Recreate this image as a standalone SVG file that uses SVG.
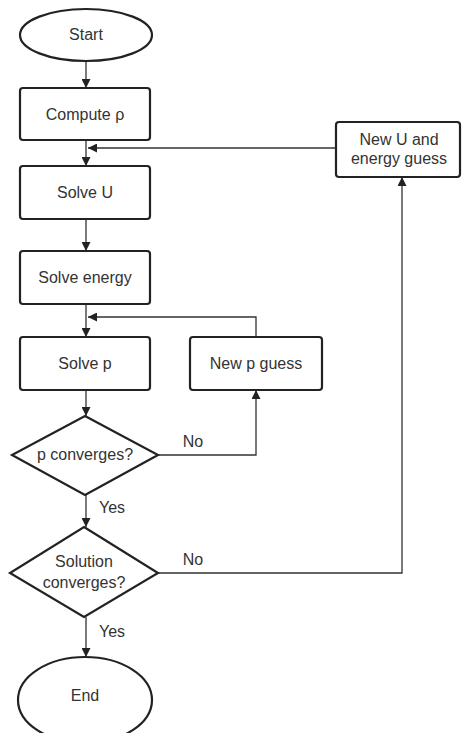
<svg xmlns="http://www.w3.org/2000/svg" width="463" height="733" viewBox="0 0 463 733">
<defs>
<marker id="ah" viewBox="0 0 10 10" refX="10" refY="5" markerWidth="9" markerHeight="9" markerUnits="userSpaceOnUse" orient="auto">
<path d="M0,0 L10,5 L0,10 z" fill="#222"/>
</marker>
<style>
.n{fill:#fff;stroke:#222;stroke-width:2.2}
.t{font-family:"Liberation Sans",Arial,sans-serif;font-size:16px;fill:#333;text-anchor:middle;dominant-baseline:central}
.c{fill:none;stroke:#333;stroke-width:1.3;marker-end:url(#ah)}
.l{fill:none;stroke:#333;stroke-width:1.3}
</style>
</defs>
<rect width="463" height="733" fill="#fff"/>
<g id="connectors">
<path class="c" d="M86,62 V88"/>
<path class="c" d="M86,140 V166"/>
<path class="c" d="M86,219 V251"/>
<path class="c" d="M86,304 V337"/>
<path class="c" d="M86,390 V416"/>
<path class="c" d="M86,495 V527"/>
<path class="c" d="M86,617 V657"/>
<path class="c" d="M158,455 H256 V390"/>
<path class="c" d="M256,337 V317 H88"/>
<path class="c" d="M158,573 H402 V177"/>
<path class="c" d="M336,148 H88"/>
<text class="t" x="193" y="441">No</text>
<text class="t" x="193" y="559">No</text>
<text class="t" x="112" y="507">Yes</text>
<text class="t" x="112" y="631">Yes</text>
</g>
<g id="start"><ellipse class="n" cx="86" cy="35" rx="66" ry="26"/><text class="t" x="86" y="34">Start</text></g>
<g id="compute"><rect class="n" x="20" y="88" width="130" height="52" rx="3"/><text class="t" x="85" y="114">Compute ρ</text></g>
<g id="solveU"><rect class="n" x="20" y="166" width="130" height="53" rx="3"/><text class="t" x="85" y="192">Solve U</text></g>
<g id="solveE"><rect class="n" x="20" y="251" width="130" height="53" rx="3"/><text class="t" x="85" y="277">Solve energy</text></g>
<g id="solveP"><rect class="n" x="20" y="337" width="130" height="53" rx="3"/><text class="t" x="85" y="363">Solve p</text></g>
<g id="newP"><rect class="n" x="190" y="337" width="132" height="53" rx="3"/><text class="t" x="256" y="363">New p guess</text></g>
<g id="newU"><rect class="n" x="336" y="122" width="124" height="55" rx="3"/><text class="t" x="399" y="139">New U and</text><text class="t" x="399" y="158">energy guess</text></g>
<g id="pconv"><polygon class="n" points="85,416 158,455 85,495 12,455"/><text class="t" x="85" y="454">p converges?</text></g>
<g id="sconv"><polygon class="n" points="84,527 158,573 84,617 10,573"/><text class="t" x="84" y="561">Solution</text><text class="t" x="84" y="582">converges?</text></g>
<g id="end"><ellipse class="n" cx="85" cy="700" rx="67" ry="43"/><text class="t" x="85" y="695">End</text></g>
</svg>
